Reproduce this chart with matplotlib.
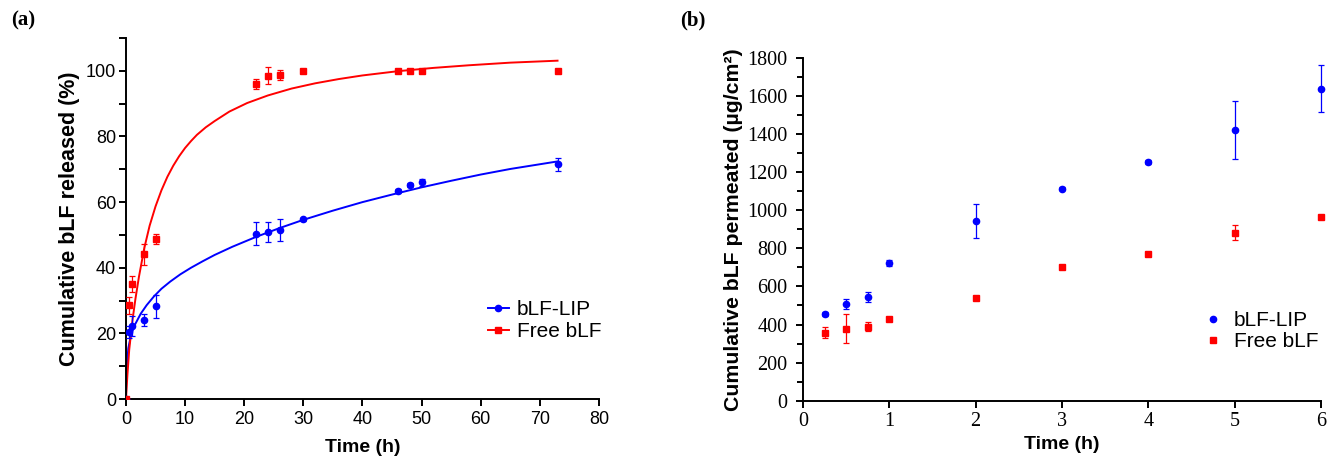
import matplotlib
matplotlib.use("Agg")
import matplotlib.pyplot as plt
from matplotlib.ticker import MultipleLocator

# ---------------- Panel (a) data ----------------
a_time = [0, 0.5, 1, 3, 5, 22, 24, 26, 30, 46, 48, 50, 73]
a_lip = [0, 20.5, 22.2, 24.0, 28.2, 50.3, 50.8, 51.5, 54.8, 63.4, 65.2, 66.0, 71.5]
a_lip_err = [0, 1.8, 3.0, 1.8, 3.5, 3.5, 3.0, 3.5, 0.5, 0.5, 0.5, 1.0, 2.0]
a_free = [0, 28.5, 35.1, 44.1, 48.8, 96.0, 98.5, 98.7, 100, 100, 100, 100, 100]
a_free_err = [0, 2.5, 2.5, 3.2, 1.5, 1.4, 2.6, 1.5, 0.3, 0.3, 0.3, 0.5, 0.3]

# fitted curves
fit_free_t = [0, 0.25, 0.55, 1.1, 1.6, 2.2, 3.1, 4.0, 5.0, 6.0, 7.0, 8.0, 9.0, 10.0,
              11.0, 12.0, 13.5, 15.0, 17.5, 20.5, 24.0, 28.0, 32.0, 36.0, 40.0,
              46.0, 52.0, 58.0, 65.0, 73.0]
fit_free_y = [0, 7.5, 15, 24, 30.5, 37.3, 46.0, 52.8, 58.7, 63.6, 67.7, 71.1, 74.0, 76.5,
              78.6, 80.5, 82.8, 84.7, 87.6, 90.2, 92.5, 94.6, 96.2, 97.5, 98.6,
              99.9, 100.9, 101.7, 102.5, 103.1]
fit_lip_t = [0, 0.05, 0.17, 0.4, 0.85, 1.5, 2.5, 3.5, 4.7, 6.0, 7.5, 9.2, 11.0, 13.0,
             15.0, 18.0, 22.0, 26.0, 30.0, 35.0, 40.0, 45.0, 50.0, 55.0, 60.0, 65.0, 73.0]
fit_lip_y = [0, 7, 10.5, 15.5, 19.5, 22.6, 26.0, 28.6, 31.2, 33.6, 35.8, 38.0, 40.0, 42.0,
             43.9, 46.4, 49.4, 52.1, 54.6, 57.4, 60.0, 62.3, 64.5, 66.5, 68.4, 70.1, 72.4]

# ---------------- Panel (b) data ----------------
b_time = [0.25, 0.5, 0.75, 1, 2, 3, 4, 5, 6]
b_lip = [454, 510, 545, 722, 945, 1113, 1253, 1423, 1639]
b_lip_err = [10, 26, 26, 16, 90, 8, 12, 153, 122]
b_free = [357, 379, 389, 431, 540, 703, 770, 882, 967]
b_free_err = [28, 77, 25, 8, 8, 8, 12, 40, 8]

BLUE = "#0000FF"
RED = "#FF0000"
SANS = "Liberation Sans"
SERIF = "Liberation Serif"

fig = plt.figure(figsize=(13.33, 4.65), dpi=100)
axA = fig.add_axes([0.0945, 0.1419, 0.3548, 0.7763])
axB = fig.add_axes([0.6024, 0.1383, 0.3886, 0.7370])

for ax in (axA, axB):
    for s in ("top", "right"):
        ax.spines[s].set_visible(False)
    for s in ("left", "bottom"):
        ax.spines[s].set_linewidth(1.4)
    ax.tick_params(which="both", direction="out", width=1.4, colors="black")
    ax.tick_params(which="major", length=5)
    ax.tick_params(which="minor", length=4)

# ---- Panel (a) ----
axA.plot(fit_lip_t, fit_lip_y, color=BLUE, lw=1.4, zorder=2)
axA.plot(fit_free_t, fit_free_y, color=RED, lw=1.4, zorder=2)
axA.errorbar(a_time, a_lip, yerr=a_lip_err, fmt="o", color=BLUE, ms=4.5,
             ecolor=BLUE, elinewidth=0.9, capsize=2.2, capthick=0.9, zorder=3)
axA.errorbar(a_time, a_free, yerr=a_free_err, fmt="s", color=RED, ms=4.5,
             ecolor=RED, elinewidth=0.9, capsize=2.2, capthick=0.9, zorder=3)
axA.set_xlim(0, 80)
axA.set_ylim(0, 110)
axA.xaxis.set_major_locator(MultipleLocator(10))
axA.yaxis.set_major_locator(MultipleLocator(20))
axA.yaxis.set_minor_locator(MultipleLocator(10))
axA.tick_params(which="minor", length=5)
axA.tick_params(axis="y", which="major", pad=2)
for lab in axA.get_xticklabels() + axA.get_yticklabels():
    lab.set_fontfamily(SANS)
    lab.set_fontsize(13)
axA.set_xlabel("Time (h)", fontfamily=SANS, fontweight="bold", fontsize=14, labelpad=8)
axA.set_ylabel("Cumulative bLF released (%)", fontfamily=SANS, fontweight="bold",
               fontsize=15.5, labelpad=4)

hA1, = axA.plot([], [], color=BLUE, lw=1.4, marker="o", ms=4.5)
hA2, = axA.plot([], [], color=RED, lw=1.4, marker="s", ms=4.5)
axA.legend([hA1, hA2], ["bLF-LIP", "Free bLF"], loc="upper left",
           bbox_to_anchor=(0.765, 0.274), frameon=False,
           prop={"family": SANS, "size": 15}, handlelength=1.0,
           handletextpad=0.4, labelspacing=0.15, borderaxespad=0, borderpad=0)

# ---- Panel (b) ----
axB.errorbar(b_time, b_lip, yerr=b_lip_err, fmt="o", color=BLUE, ms=4.5,
             ecolor=BLUE, elinewidth=0.9, capsize=2.2, capthick=0.9, zorder=3,
             clip_on=False)
axB.errorbar(b_time, b_free, yerr=b_free_err, fmt="s", color=RED, ms=4.5,
             ecolor=RED, elinewidth=0.9, capsize=2.2, capthick=0.9, zorder=3,
             clip_on=False)
axB.set_xlim(0, 6)
axB.set_ylim(0, 1800)
axB.xaxis.set_major_locator(MultipleLocator(1))
axB.yaxis.set_major_locator(MultipleLocator(200))
axB.yaxis.set_minor_locator(MultipleLocator(100))
axB.tick_params(axis="y", which="major", pad=6)
for lab in axB.get_xticklabels() + axB.get_yticklabels():
    lab.set_fontfamily(SERIF)
    lab.set_fontsize(14.5)
axB.set_xlabel("Time (h)", fontfamily=SANS, fontweight="bold", fontsize=14, labelpad=3)
axB.set_ylabel("Cumulative bLF permeated (µg/cm²)", fontfamily=SANS,
               fontweight="bold", fontsize=15.3, labelpad=3)

hB1, = axB.plot([], [], ls="none", color=BLUE, marker="o", ms=4.5)
hB2, = axB.plot([], [], ls="none", color=RED, marker="s", ms=4.5)
axB.legend([hB1, hB2], ["bLF-LIP", "Free bLF"], loc="upper left",
           bbox_to_anchor=(0.775, 0.262), frameon=False,
           prop={"family": SANS, "size": 15}, handlelength=0.8,
           handletextpad=0.6, labelspacing=0.1, borderaxespad=0, borderpad=0)

# panel labels
fig.text(0.008, 0.955, "(a)", fontfamily=SERIF, fontweight="bold", fontsize=15,
         va="center", ha="left")
fig.text(0.510, 0.955, "(b)", fontfamily=SERIF, fontweight="bold", fontsize=15,
         va="center", ha="left")

fig.savefig("out.png", dpi=100)
